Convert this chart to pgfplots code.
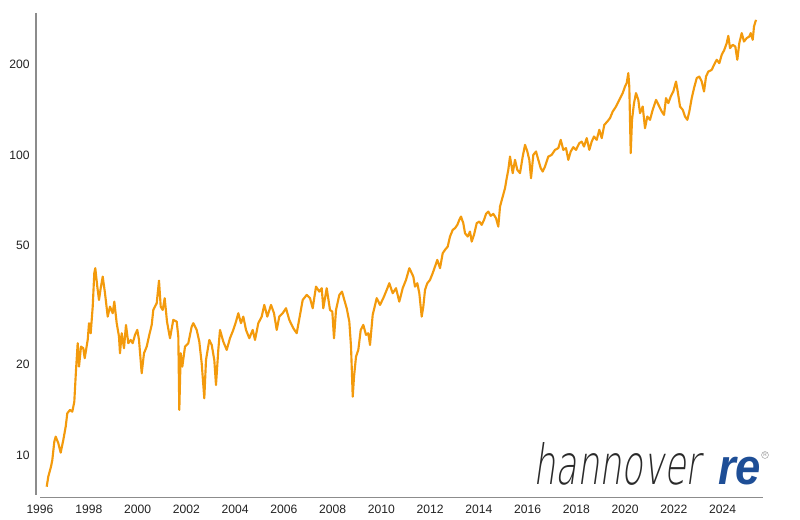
\documentclass[border=0pt]{standalone}
\usepackage{pgfplots}
\pgfplotsset{compat=1.18}
\usepackage{fontspec}
\setmainfont{Liberation Sans}
\newfontfamily\logofont[FakeSlant=0.22]{DejaVu Sans ExtraLight}
\definecolor{lineorange}{HTML}{F39A0C}
\definecolor{axgray}{HTML}{8C8C8C}
\definecolor{labcol}{HTML}{222222}
\definecolor{reblue}{HTML}{1E4E96}
\definecolor{logogray}{HTML}{2A2A2A}
\begin{document}
\begin{tikzpicture}
\begin{axis}[
  name=ax,
  scale only axis, width=542.25pt, height=360pt,
  xmin=1996, xmax=2025.655,
  ymode=log, ymin=7.47, ymax=297,
  axis line style={draw=none},
  major tick length=0pt, tick style={draw=none},
  xtick={1996,1998,2000,2002,2004,2006,2008,2010,2012,2014,2016,2018,2020,2022,2024},
  xticklabels={1996,1998,2000,2002,2004,2006,2008,2010,2012,2014,2016,2018,2020,2022,2024},
  ytick={10,20,50,100,200},
  yticklabels={10,20,50,100,200},
  minor ytick={},
  tick label style={font=\fontsize{9.1}{10}\selectfont, text=labcol, inner sep=0pt},
  yticklabel style={anchor=east, xshift=-7.5pt},
  xticklabel style={anchor=north, yshift=-8.8pt},
]
\addplot[lineorange, line width=1.6pt, line join=round] coordinates {
(1996.275,7.84) (1996.340,8.47) (1996.451,9.14) (1996.505,9.62) (1996.587,11.07)
(1996.644,11.51) (1996.751,10.94) (1996.849,10.18) (1996.956,11.22) (1997.054,12.43)
(1997.120,13.77) (1997.231,14.13) (1997.325,13.94) (1997.407,15.05) (1997.477,19.20)
(1997.546,23.57) (1997.600,19.70) (1997.682,22.96) (1997.776,22.68) (1997.833,21.01)
(1997.957,24.17) (1998.010,27.48) (1998.080,25.45) (1998.162,31.21) (1998.227,40.34)
(1998.268,41.92) (1998.350,36.39) (1998.420,32.86) (1998.490,35.95) (1998.572,39.30)
(1998.666,34.59) (1998.777,28.91) (1998.871,31.21) (1998.982,29.67) (1999.048,32.43)
(1999.146,27.48) (1999.240,24.80) (1999.281,21.83) (1999.351,25.45) (1999.445,22.68)
(1999.527,27.12) (1999.622,23.57) (1999.720,24.17) (1999.802,23.57) (1999.897,25.12)
(1999.991,26.10) (2000.061,24.17) (2000.171,18.72) (2000.266,21.83) (2000.376,22.96)
(2000.483,25.12) (2000.582,27.12) (2000.647,30.42) (2000.787,32.04) (2000.881,38.11)
(2000.951,31.21) (2001.033,30.42) (2001.115,33.30) (2001.209,27.82) (2001.332,24.49)
(2001.467,28.18) (2001.607,27.82) (2001.673,24.80) (2001.714,14.13) (2001.771,21.83)
(2001.837,19.70) (2001.948,22.96) (2002.083,23.57) (2002.222,26.78) (2002.288,27.48)
(2002.427,26.10) (2002.534,23.86) (2002.632,20.21) (2002.739,15.45) (2002.809,20.73)
(2002.944,24.17) (2003.043,23.26) (2003.149,20.73) (2003.219,17.11) (2003.313,22.39)
(2003.383,26.10) (2003.518,23.86) (2003.658,22.39) (2003.793,24.49) (2003.929,26.10)
(2004.039,27.82) (2004.134,29.67) (2004.244,27.48) (2004.339,28.91) (2004.450,26.10)
(2004.585,24.49) (2004.724,26.10) (2004.819,24.17) (2004.954,27.48) (2005.093,28.91)
(2005.200,31.62) (2005.323,28.91) (2005.475,31.62) (2005.598,29.67) (2005.709,26.10)
(2005.815,28.91) (2005.955,29.67) (2006.090,30.83) (2006.226,28.18) (2006.390,26.44)
(2006.529,25.45) (2006.665,29.29) (2006.775,32.86) (2006.939,34.14) (2007.075,33.30)
(2007.185,30.83) (2007.321,36.39) (2007.456,35.02) (2007.555,35.95) (2007.620,30.83)
(2007.760,35.95) (2007.895,30.42) (2007.990,30.03) (2008.059,24.49) (2008.141,30.42)
(2008.277,34.14) (2008.387,35.02) (2008.482,32.86) (2008.580,30.83) (2008.687,27.82)
(2008.757,22.96) (2008.827,15.64) (2008.880,18.24) (2008.962,21.27) (2009.056,22.39)
(2009.155,26.10) (2009.261,27.12) (2009.372,25.12) (2009.466,25.45) (2009.536,23.26)
(2009.646,29.29) (2009.810,33.30) (2009.946,31.62) (2010.081,33.30) (2010.221,35.48)
(2010.327,37.35) (2010.467,34.59) (2010.602,35.95) (2010.737,32.43) (2010.877,35.95)
(2011.012,38.31) (2011.148,41.92) (2011.217,40.83) (2011.312,39.30) (2011.381,36.39)
(2011.476,37.35) (2011.558,34.59) (2011.656,28.91) (2011.722,31.21) (2011.792,35.48)
(2011.886,37.35) (2011.997,38.31) (2012.107,40.34) (2012.202,42.44) (2012.296,44.67)
(2012.407,41.92) (2012.518,47.02) (2012.612,48.25) (2012.723,49.48) (2012.817,53.43)
(2012.928,56.23) (2013.022,56.98) (2013.117,58.44) (2013.199,60.73) (2013.268,62.29)
(2013.362,59.20) (2013.432,54.83) (2013.543,53.43) (2013.637,55.51) (2013.707,51.40)
(2013.801,54.12) (2013.912,59.20) (2014.019,59.95) (2014.117,58.44) (2014.212,60.73)
(2014.294,63.59) (2014.388,64.71) (2014.486,62.62) (2014.593,63.59) (2014.704,61.52)
(2014.798,57.68) (2014.868,67.25) (2014.979,72.61) (2015.073,77.45) (2015.143,83.61)
(2015.208,89.13) (2015.278,98.70) (2015.389,86.90) (2015.483,96.23) (2015.578,89.13)
(2015.688,86.90) (2015.799,98.70) (2015.894,108.0) (2015.988,102.6) (2016.070,96.23)
(2016.140,83.61) (2016.234,100.0) (2016.345,102.6) (2016.439,96.23) (2016.538,90.29)
(2016.619,87.99) (2016.714,91.41) (2016.849,98.70) (2016.988,100.0) (2017.124,103.9)
(2017.259,105.3) (2017.358,112.2) (2017.464,103.9) (2017.575,105.3) (2017.669,96.23)
(2017.768,102.6) (2017.874,106.1) (2017.985,103.9) (2018.120,109.4) (2018.219,110.7)
(2018.313,106.6) (2018.424,113.7) (2018.531,103.9) (2018.629,110.7) (2018.723,115.1)
(2018.834,112.2) (2018.941,121.2) (2019.039,113.7) (2019.146,125.9) (2019.269,129.1)
(2019.380,132.6) (2019.490,139.4) (2019.626,144.9) (2019.761,152.5) (2019.900,160.6)
(2019.995,168.9) (2020.064,173.4) (2020.130,187.2) (2020.171,168.9) (2020.229,101.3)
(2020.282,130.8) (2020.364,148.7) (2020.446,160.6) (2020.541,152.5) (2020.610,137.7)
(2020.721,144.9) (2020.815,122.7) (2020.910,134.2) (2021.020,130.8) (2021.131,141.3)
(2021.267,152.5) (2021.402,144.9) (2021.501,139.4) (2021.595,135.9) (2021.677,154.5)
(2021.771,148.7) (2021.870,156.4) (2021.976,162.6) (2022.087,175.5) (2022.157,162.6)
(2022.251,144.9) (2022.362,141.3) (2022.456,134.2) (2022.551,130.8) (2022.633,139.4)
(2022.731,154.5) (2022.826,166.9) (2022.936,180.2) (2023.043,182.4) (2023.141,175.5)
(2023.236,162.6) (2023.318,182.4) (2023.412,189.5) (2023.551,192.0) (2023.646,199.5)
(2023.756,207.4) (2023.863,202.1) (2023.961,215.4) (2024.068,223.9) (2024.166,235.7)
(2024.232,249.2) (2024.302,226.8) (2024.412,232.6) (2024.519,229.6) (2024.601,207.4)
(2024.683,235.7) (2024.782,254.5) (2024.876,238.6) (2024.987,244.9) (2025.093,247.9)
(2025.151,254.5) (2025.233,241.7) (2025.286,267.8) (2025.368,281.8)
};
\end{axis}
% axis lines (drawn separately, as in the reference)
\draw[axgray, line width=0.8pt] ([xshift=-3pt]ax.north west) -- ([xshift=-3pt,yshift=-1.5pt]ax.south west);
\draw[axgray, line width=0.8pt] ([yshift=-3.4pt]ax.south west) -- ([yshift=-3.4pt]ax.south east);
% logo
\node[anchor=base west, inner sep=0pt, text=logogray] at ([xshift=369.75pt,yshift=6pt]ax.south west)
  {\resizebox{125.25pt}{31.5pt}{\logofont hannover}};
\node[anchor=base west, inner sep=0pt, text=reblue] at ([xshift=508.5pt,yshift=6pt]ax.south west)
  {\resizebox{32.25pt}{20.5pt}{\bfseries\itshape re}};
\draw[axgray, line width=0.3pt] ([xshift=543.75pt,yshift=28.5pt]ax.south west) circle (2.6pt);
\node[inner sep=0pt, text=axgray, font=\fontsize{3.6}{4}\selectfont] at ([xshift=543.75pt,yshift=28.5pt]ax.south west) {R};
\path[use as bounding box] ([xshift=-30pt,yshift=-20.25pt]ax.south west) rectangle ++(600pt,390pt);
\end{tikzpicture}
\end{document}
